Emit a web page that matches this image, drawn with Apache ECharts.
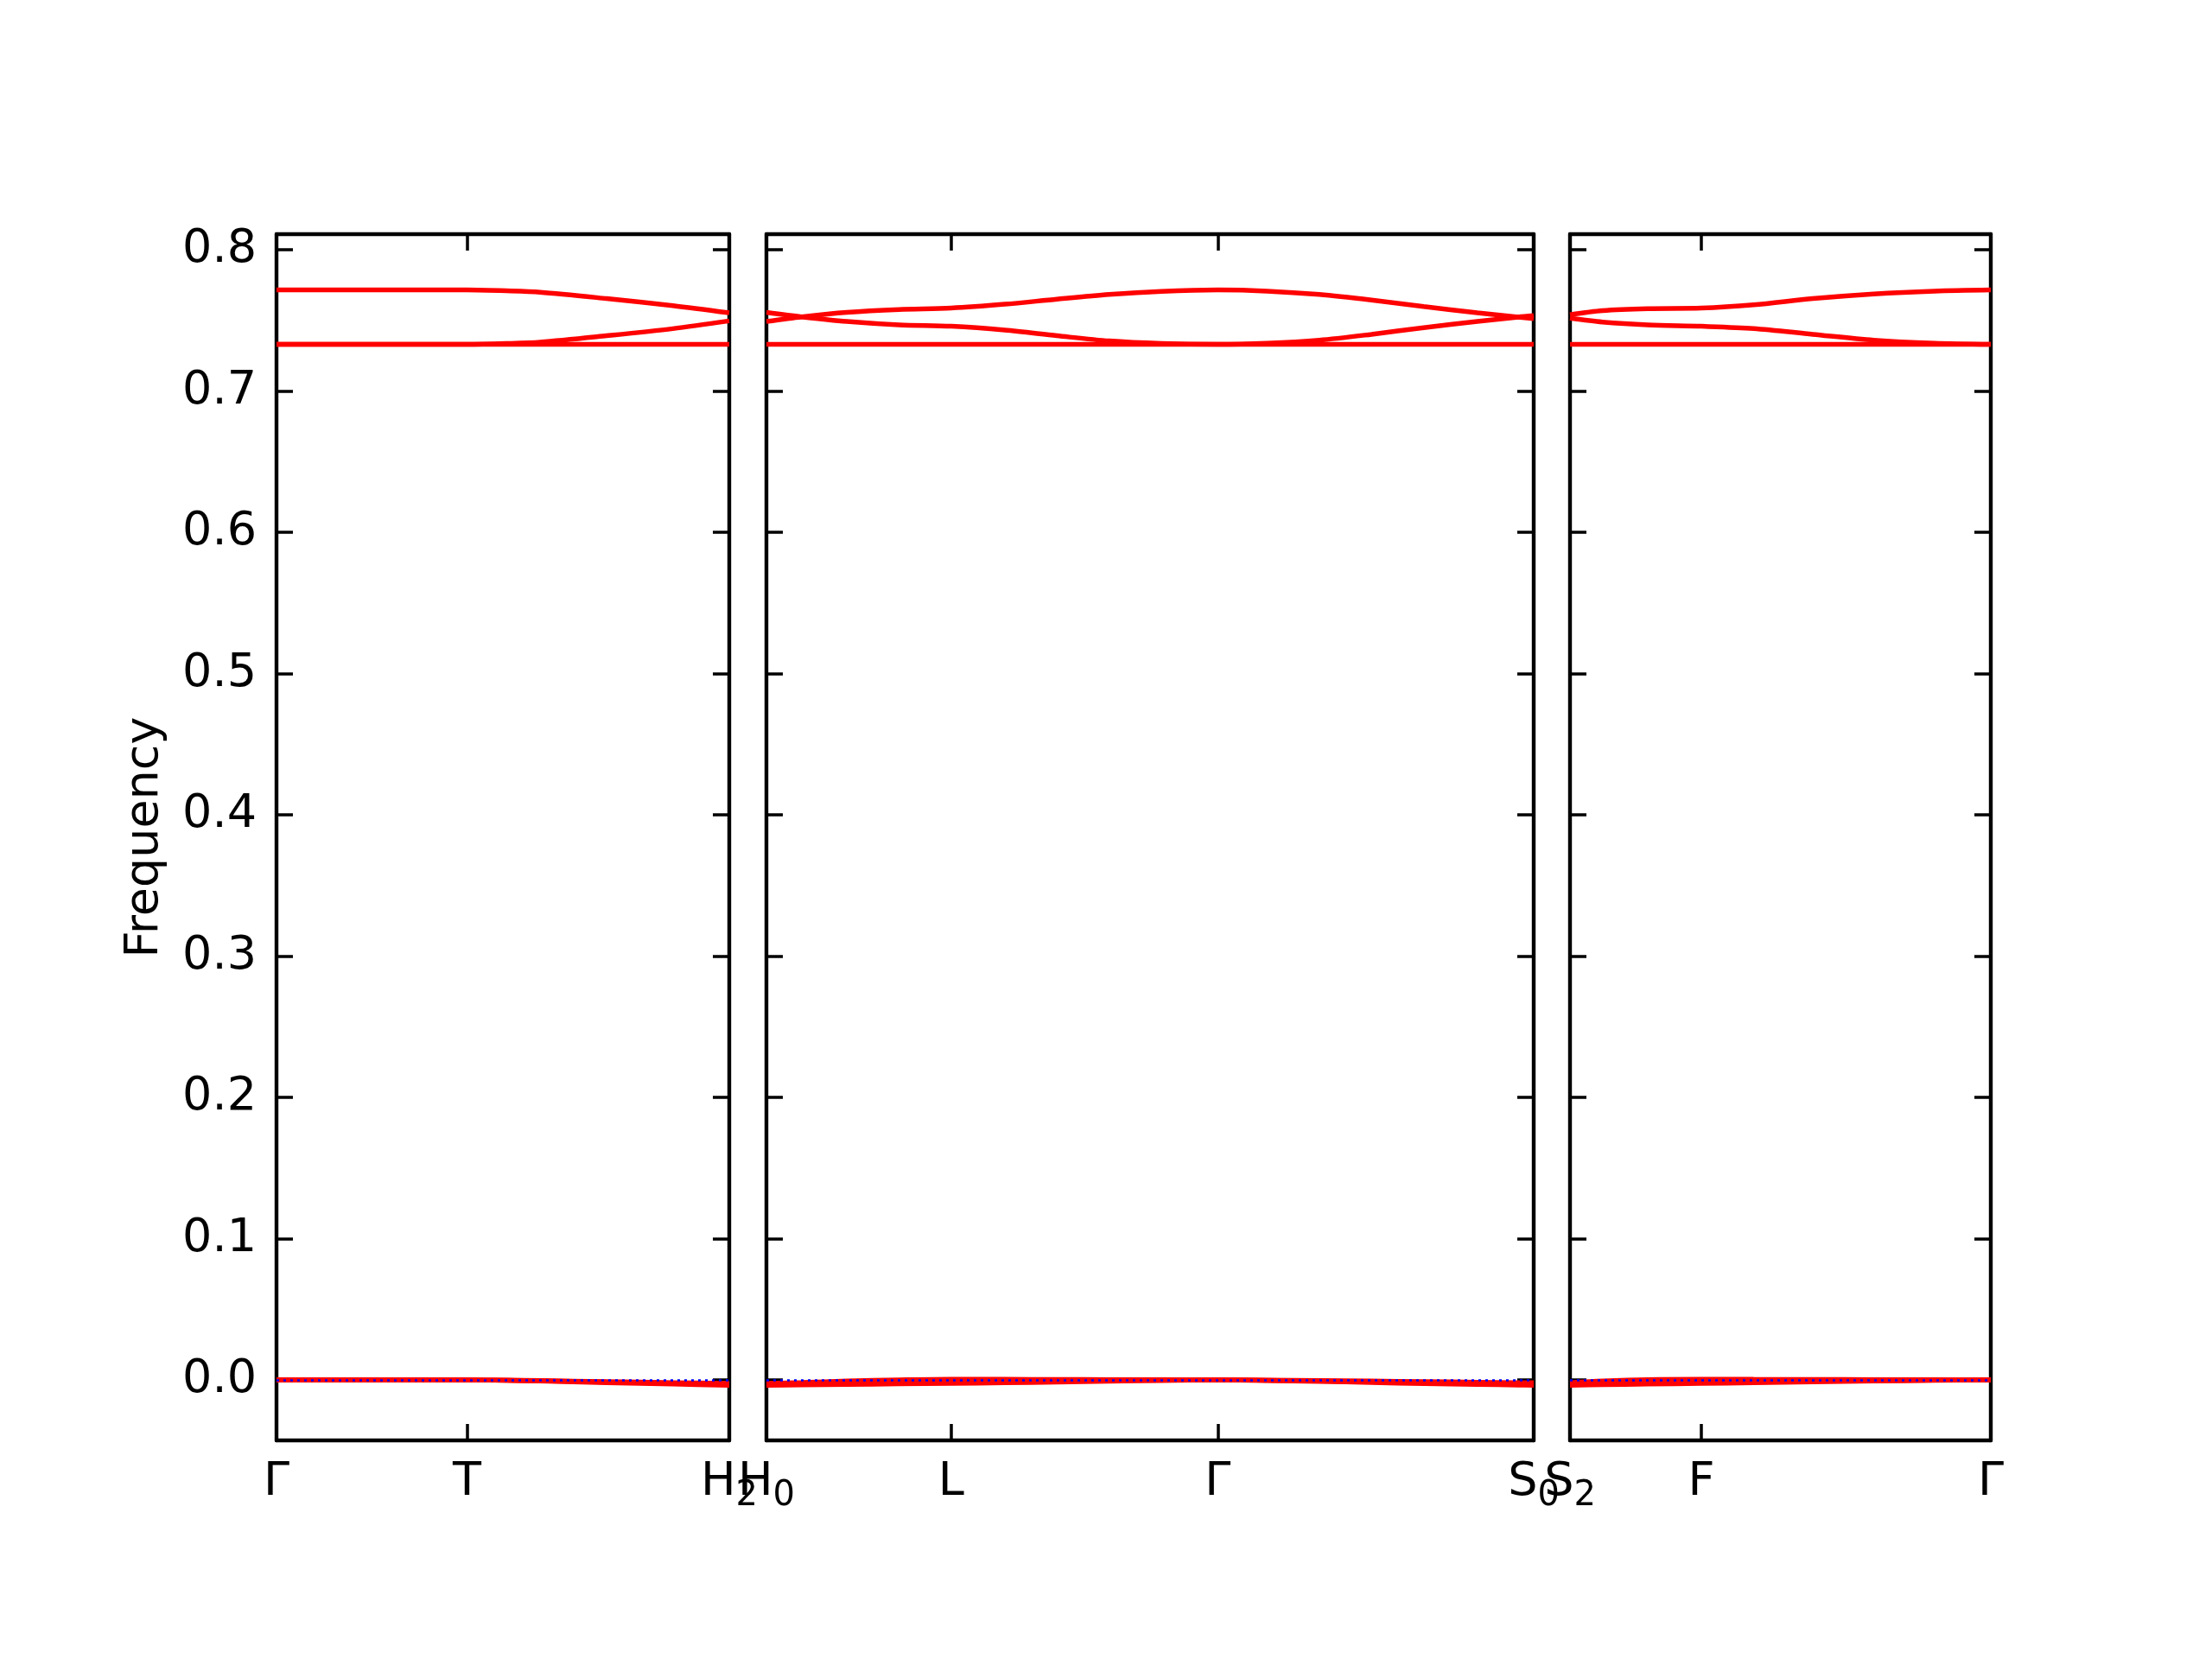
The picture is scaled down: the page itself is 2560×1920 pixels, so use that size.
<!DOCTYPE html>
<html><head><meta charset="utf-8">
<script src="https://cdn.jsdelivr.net/npm/echarts@6/dist/echarts.min.js"></script>
<style>html,body{margin:0;padding:0;background:#fff}#c{width:2560px;height:1920px}</style>
</head><body><div id="c"></div>
<script>
// y axis
const yTicks = [0.0, 0.1, 0.2, 0.3, 0.4, 0.5, 0.6, 0.7, 0.8];
const yMin = -0.0428, yMax = 0.811;

// Panel 1: Γ - T - H2
const p1Ticks = [0, 135, 321];
const p1Labels = ['{m|Γ}', '{m|T}', '{m|H}{s|2}'];
const p1X = [0, 67, 135, 163, 187, 234, 281, 321];
const p1Opt4 = [0.733, 0.733, 0.733, 0.733, 0.733, 0.733, 0.733, 0.733];
const p1Opt5 = [0.733, 0.733, 0.733, 0.7336, 0.7346, 0.7391, 0.7441, 0.7496];
const p1Opt6 = [0.7715, 0.7715, 0.7715, 0.7709, 0.7699, 0.7654, 0.7604, 0.7553];
const p1Ac1 = [0, 0, 0, -0.0002, -0.0005, -0.0012, -0.0019, -0.0025];
const p1Ac2 = [0, 0, 0, -0.0003, -0.0006, -0.0015, -0.0023, -0.0030];
const p1Ac3 = [0, 0, 0, -0.0003, -0.0008, -0.0019, -0.0029, -0.0038];

// Panel 2: H0 - L - Γ - S0
const p2Ticks = [0, 131, 320, 544];
const p2Labels = ['{m|H}{s|0}', '{m|L}', '{m|Γ}', '{m|S}{s|0}'];
const p2X = [0, 25, 57, 94, 131, 169, 206, 243, 280, 320, 355, 392, 429, 466, 504, 533, 544];
const p2Opt4 = [0.733, 0.733, 0.733, 0.733, 0.733, 0.733, 0.733, 0.733, 0.733, 0.733, 0.733, 0.733, 0.733, 0.733, 0.733, 0.733, 0.733];
const p2Opt5 = [0.7557, 0.7525, 0.7492, 0.7468, 0.7458, 0.7431, 0.7391, 0.7354, 0.7336, 0.733, 0.7338, 0.7360, 0.7401, 0.7448, 0.7492, 0.7523, 0.7533];
const p2Opt6 = [0.7492, 0.7525, 0.7557, 0.7577, 0.7587, 0.7614, 0.7650, 0.7683, 0.7705, 0.7715, 0.7707, 0.7683, 0.7644, 0.7598, 0.7553, 0.7523, 0.7512];
const p2Ac1 = [-0.0025, -0.0018, -0.0008, 0.0000, 0.0005, 0.0004, 0.0003, 0.0002, 0.0001, 0, -0.0001, -0.0004, -0.0008, -0.0012, -0.0016, -0.0019, -0.0020];
const p2Ac2 = [-0.0030, -0.0027, -0.0023, -0.0019, -0.0015, -0.0012, -0.0008, -0.0005, -0.0002, 0, -0.0003, -0.0008, -0.0014, -0.0020, -0.0025, -0.0029, -0.0030];
const p2Ac3 = [-0.0038, -0.0035, -0.0032, -0.0028, -0.0025, -0.0020, -0.0015, -0.0009, -0.0004, 0, -0.0004, -0.0010, -0.0018, -0.0026, -0.0032, -0.0036, -0.0038];

// Panel 3: S2 - F - Γ
const p3Ticks = [0, 93, 298];
const p3Labels = ['{m|S}{s|2}', '{m|F}', '{m|Γ}'];
const p3X = [0, 23, 55, 93, 130, 172, 215, 258, 298];
const p3Opt4 = [0.733, 0.733, 0.733, 0.733, 0.733, 0.733, 0.733, 0.733, 0.733];
const p3Opt5 = [0.7515, 0.7488, 0.7468, 0.7458, 0.7442, 0.7401, 0.7360, 0.7338, 0.733];
const p3Opt6 = [0.7540, 0.7569, 0.7583, 0.7587, 0.7610, 0.7654, 0.7687, 0.7707, 0.7715];
const p3Ac1 = [-0.0020, -0.0008, 0.0002, 0.0005, 0.0004, 0.0003, 0.0002, 0.0001, 0];
const p3Ac2 = [-0.0030, -0.0025, -0.0019, -0.0015, -0.0012, -0.0008, -0.0005, -0.0002, 0];
const p3Ac3 = [-0.0038, -0.0034, -0.0029, -0.0025, -0.0020, -0.0014, -0.0008, -0.0003, 0];

const panels = [
  {ticks: p1Ticks, labels: p1Labels, x: p1X, bands: [p1Ac1, p1Ac2, p1Ac3, p1Opt4, p1Opt5, p1Opt6], grid: {left: 320, right: 1716}},
  {ticks: p2Ticks, labels: p2Labels, x: p2X, bands: [p2Ac1, p2Ac2, p2Ac3, p2Opt4, p2Opt5, p2Opt6], grid: {left: 887, right: 785}},
  {ticks: p3Ticks, labels: p3Labels, x: p3X, bands: [p3Ac1, p3Ac2, p3Ac3, p3Opt4, p3Opt5, p3Opt6], grid: {left: 1817, right: 256}}
];

const FONT = 'DejaVu Sans';
const FS = 54;
const LW = 4.4;
const TICKLEN = 19;

const option = {
  animation: false,
  backgroundColor: '#ffffff',
  grid: [], xAxis: [], yAxis: [], series: []
};

panels.forEach((p, i) => {
  option.grid.push({left: p.grid.left, right: p.grid.right, top: 271, bottom: 253, containLabel: false});
  const xmax = p.ticks[p.ticks.length - 1];
  option.xAxis.push({
    type: 'value', gridIndex: i, min: 0, max: xmax, position: 'bottom',
    splitLine: {show: false},
    axisLine: {show: true, onZero: false, lineStyle: {color: '#000', width: LW}},
    axisTick: {show: true, inside: true, length: TICKLEN, customValues: p.ticks, lineStyle: {color: '#000', width: LW * 0.8}},
    axisLabel: {
      show: true, margin: 22, customValues: p.ticks,
      formatter: function (v) {
        for (let k = 0; k < p.ticks.length; k++) if (Math.abs(p.ticks[k] - v) < 1e-6) return p.labels[k];
        return '';
      },
      rich: {
        m: {fontFamily: FONT, fontSize: FS, lineHeight: 55, color: '#000', verticalAlign: 'top'},
        s: {fontFamily: FONT, fontSize: 40, lineHeight: 55, color: '#000', verticalAlign: 'top', padding: [23, 0, 0, 0]}
      }
    }
  });
  option.xAxis.push({
    type: 'value', gridIndex: i, min: 0, max: xmax, position: 'top',
    splitLine: {show: false},
    axisLine: {show: true, onZero: false, lineStyle: {color: '#000', width: LW}},
    axisTick: {show: true, inside: true, length: TICKLEN, customValues: p.ticks, lineStyle: {color: '#000', width: LW * 0.8}},
    axisLabel: {show: false}
  });
  option.yAxis.push({
    type: 'value', gridIndex: i, min: yMin, max: yMax, position: 'left',
    name: i === 0 ? 'Frequency' : '', nameLocation: 'middle', nameGap: 125,
    nameTextStyle: {fontFamily: FONT, fontSize: FS, color: '#000'},
    splitLine: {show: false},
    axisLine: {show: true, onZero: false, lineStyle: {color: '#000', width: LW}},
    axisTick: {show: true, inside: true, length: TICKLEN, customValues: yTicks, lineStyle: {color: '#000', width: LW * 0.8}},
    axisLabel: {
      show: i === 0, margin: 23, customValues: yTicks,
      fontFamily: FONT, fontSize: FS, color: '#000', padding: [14, 0, 0, 0],
      formatter: v => v.toFixed(1)
    }
  });
  option.yAxis.push({
    type: 'value', gridIndex: i, min: yMin, max: yMax, position: 'right',
    splitLine: {show: false},
    axisLine: {show: true, onZero: false, lineStyle: {color: '#000', width: LW}},
    axisTick: {show: true, inside: true, length: TICKLEN, customValues: yTicks, lineStyle: {color: '#000', width: LW * 0.8}},
    axisLabel: {show: false}
  });
  const xi = i * 2, yi = i * 2;
  option.series.push({
    type: 'line', xAxisIndex: xi, yAxisIndex: yi, data: [], symbol: 'none', silent: true,
    markLine: {silent: true, symbol: ['none', 'none'], label: {show: false},
      lineStyle: {color: '#0000ff', type: [3, 5], width: 2.5},
      data: [{yAxis: 0}]}
  });
  p.bands.forEach(b => {
    option.series.push({
      type: 'line', xAxisIndex: xi, yAxisIndex: yi, symbol: 'none', smooth: 0.3,
      lineStyle: {color: '#ff0000', width: 5.5},
      data: p.x.map((xv, k) => [xv, b[k]])
    });
  });
});

const chart = echarts.init(document.getElementById('c'), null, {renderer: 'canvas'});
chart.setOption(option);
</script>
</body></html>
